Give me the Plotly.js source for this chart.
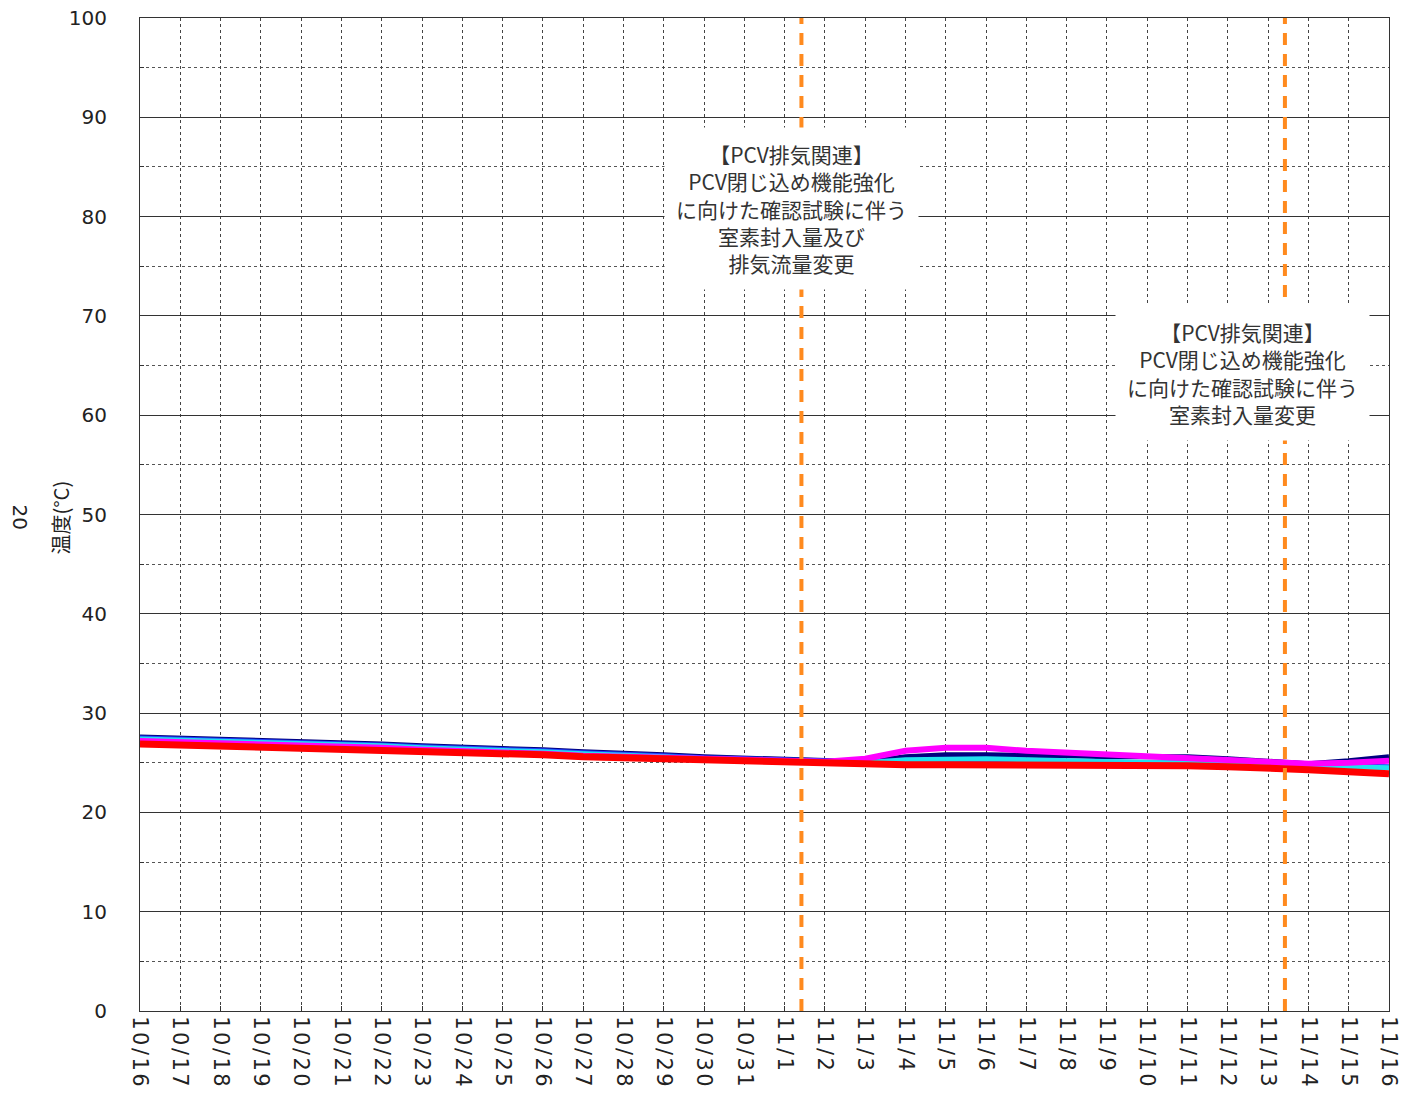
<!DOCTYPE html>
<html>
<head>
<meta charset="utf-8">
<script src="https://cdn.plot.ly/plotly-3.0.1.min.js"></script>
<style>html,body{margin:0;padding:0;background:#fff;}#chart{width:1405px;height:1097px;}
.xtick text{letter-spacing:2.5px;}</style>
</head>
<body>
<div id="chart"></div>
<script>
// Dates (daily, 10/16 - 11/16)
const dates = ["2019-10-16","2019-10-17","2019-10-18","2019-10-19","2019-10-20","2019-10-21","2019-10-22","2019-10-23",
  "2019-10-24","2019-10-25","2019-10-26","2019-10-27","2019-10-28","2019-10-29","2019-10-30","2019-10-31",
  "2019-11-01","2019-11-02","2019-11-03","2019-11-04","2019-11-05","2019-11-06","2019-11-07","2019-11-08",
  "2019-11-09","2019-11-10","2019-11-11","2019-11-12","2019-11-13","2019-11-14","2019-11-15","2019-11-16"];
const tickLabels = ["10/16","10/17","10/18","10/19","10/20","10/21","10/22","10/23","10/24","10/25","10/26","10/27",
  "10/28","10/29","10/30","10/31","11/1","11/2","11/3","11/4","11/5","11/6","11/7","11/8","11/9","11/10","11/11",
  "11/12","11/13","11/14","11/15","11/16"];

// Temperature series (°C)
const navy    = [27.6,27.5,27.3,27.2,27.1,27.0,26.9,26.7,26.6,26.4,26.3,26.1,26.0,25.8,25.6,25.5,
                 25.3,25.2,25.1,25.6,25.8,25.8,25.8,25.7,25.6,25.6,25.6,25.4,25.2,24.9,25.2,25.6];
const blue    = [27.5,27.4,27.2,27.1,27.0,26.9,26.8,26.6,26.5,26.3,26.2,26.0,25.9,25.7,25.5,25.4,
                 25.2,25.2,25.1,25.2,25.3,25.3,25.2,25.1,25.0,25.0,25.0,24.9,24.8,24.7,24.7,24.6];
const cyan    = [27.4,27.3,27.1,27.0,26.9,26.8,26.7,26.5,26.4,26.2,26.1,25.9,25.8,25.6,25.4,25.3,
                 25.1,25.1,25.0,25.3,25.4,25.4,25.3,25.2,25.1,25.1,25.0,24.9,24.8,24.7,24.6,24.5];
const magenta = [27.2,27.1,26.9,26.8,26.7,26.6,26.5,26.3,26.2,26.0,25.9,25.7,25.6,25.5,25.3,25.2,
                 25.1,25.1,25.4,26.2,26.5,26.5,26.2,26.0,25.8,25.6,25.5,25.3,25.1,24.9,25.0,25.2];
const red     = [26.9,26.8,26.7,26.6,26.5,26.4,26.3,26.1,26.0,25.9,25.8,25.6,25.5,25.4,25.2,25.1,
                 25.0,24.9,24.8,24.8,24.8,24.8,24.8,24.8,24.7,24.7,24.7,24.6,24.5,24.3,24.1,23.9];

// Events
const eventTimes = ["2019-11-01 10:00","2019-11-13 10:00"];
const eventTexts = [
  "【PCV排気関連】<br>PCV閉じ込め機能強化<br>に向けた確認試験に伴う<br>室素封入量及び<br>排気流量変更",
  "【PCV排気関連】<br>PCV閉じ込め機能強化<br>に向けた確認試験に伴う<br>室素封入量変更"
];
const eventLabelX = ["2019-11-01 04:00","2019-11-12 08:30"];
const eventLabelY = [80.8, 64.2];

const yRange = [0, 100];

const mk = (y, color, w) => ({x: dates, y: y, type: 'scatter', mode: 'lines',
  line: {color: color, width: w}, hoverinfo: 'skip', showlegend: false});

const traces = [
  mk(navy, '#000080', 5),
  mk(blue, '#1f3fff', 5),
  mk(cyan, '#22e0ee', 5),
  mk(magenta, '#ff00ff', 6),
  mk(red, '#ff0000', 7)
];

// Orange dashed event lines drawn as traces on the date axis
eventTimes.forEach(t => {
  traces.push({x: [t, t], y: yRange, type: 'scatter', mode: 'lines',
    line: {color: '#ff8a1e', width: 4, dash: '12px,9px'}, hoverinfo: 'skip', showlegend: false});
});

const annFont = {family: '"Noto Sans CJK JP", sans-serif', size: 21, color: '#333'};
const annotations = eventTexts.map((t, i) => ({
  x: eventLabelX[i], y: eventLabelY[i], xref: 'x', yref: 'y', text: t, showarrow: false,
  font: annFont, bgcolor: '#ffffff', borderpad: 11, align: 'center'
}));
annotations.push({
  xref: 'paper', yref: 'paper', x: -0.0961, y: 0.497, xanchor: 'center', yanchor: 'middle',
  text: '20', showarrow: false, textangle: 90,
  font: {family: 'DejaVu Sans, sans-serif', size: 20, color: '#222'}
});
annotations.push({
  xref: 'paper', yref: 'paper', x: -0.064, y: 0.497, xanchor: 'center', yanchor: 'middle',
  text: '温度(°C)', showarrow: false, textangle: -90,
  font: {family: '"Noto Sans CJK JP", sans-serif', size: 20, color: '#222'}
});

const layout = {
  width: 1405, height: 1097,
  margin: {l: 140, r: 16, t: 18, b: 86, pad: 0},
  paper_bgcolor: '#fff', plot_bgcolor: '#fff',
  showlegend: false,
  font: {family: 'DejaVu Sans, sans-serif', size: 20, color: '#222'},
  xaxis: {
    type: 'date', range: [dates[0], dates[dates.length - 1]],
    tickmode: 'array', tickvals: dates, ticktext: tickLabels, tickangle: 90,
    showgrid: true, gridcolor: '#444', gridwidth: 1, griddash: 'dot',
    showline: true, linecolor: '#333', linewidth: 1, mirror: true,
    ticks: 'inside', ticklen: 5, tickcolor: '#333',
    tickfont: {family: 'DejaVu Sans, sans-serif', size: 21, color: '#222'},
    zeroline: false, fixedrange: true
  },
  yaxis: {
    range: yRange, dtick: 10, tick0: 0,
    showgrid: true, gridcolor: '#333', gridwidth: 1,
    minor: {dtick: 5, showgrid: true, gridcolor: '#555', griddash: 'dot', gridwidth: 1,
            ticks: 'inside', ticklen: 4, tickcolor: '#333'},
    showline: true, linecolor: '#333', linewidth: 1, mirror: true,
    ticks: '', ticklabelstandoff: 28,
    tickfont: {family: 'DejaVu Sans, sans-serif', size: 20, color: '#222'},
    zeroline: false, fixedrange: true
  },
  annotations: annotations
};

Plotly.newPlot('chart', traces, layout, {staticPlot: true, displayModeBar: false});
</script>
</body>
</html>
